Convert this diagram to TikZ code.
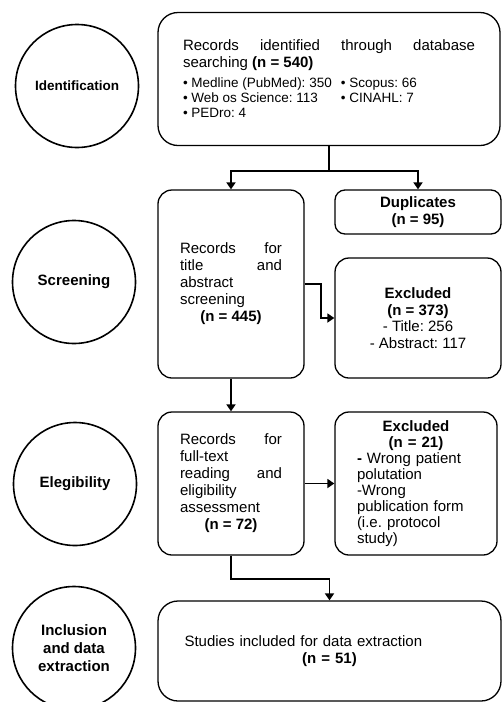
\documentclass[tikz,border=0pt]{standalone}
\usepackage{fontspec}
\setmainfont{Liberation Sans}
\usetikzlibrary{arrows.meta}
\setlength{\parindent}{0pt}
\frenchspacing
\tolerance=10000
\hyphenpenalty=10000
\exhyphenpenalty=10000

\tikzset{
  phase/.style={circle, draw, line width=1.6pt, minimum size=123pt, inner sep=0pt, align=center, font=\fontsize{15}{18}\selectfont\bfseries},
  stagebox/.style={draw, line width=1.3pt, rounded corners=14pt, inner sep=0pt, font=\fontsize{15}{17}\selectfont},
  flow/.style={line width=1.8pt},
  flowarrow/.style={flow, -{Triangle[width=9pt,length=7pt]}},
}

\begin{document}
\begin{tikzpicture}[x=1pt,y=-1pt]
\useasboundingbox (0,0) rectangle (502,702);

\node[phase, font=\fontsize{13.5}{16}\selectfont\bfseries] (ident) at (77,86) {Identification};
\node[phase] (screening) at (74,282) {Screening};
\node[phase] (elegibility) at (75,484) {Elegibility};
\node[phase] (inclusion) at (74,648) {Inclusion\\and data\\extraction};

\node[stagebox, rounded corners=20pt, minimum width=342pt, minimum height=133pt, text width=292pt, align=justify] (records) at (329,79)
  {Records identified through database\linebreak searching \textbf{(n = 540)}\par
   \vspace{5pt}
   {\fontsize{13.5}{15}\selectfont
   \makebox[158pt][l]{• Medline (PubMed): 350}• Scopus: 66\\
   \makebox[158pt][l]{• Web os Science: 113}• CINAHL: 7\\
   • PEDro: 4\par}};

\node[stagebox, rounded corners=10pt, minimum width=166pt, minimum height=44pt, align=center, font=\fontsize{15}{17}\selectfont\bfseries] (dup) at (418,212)
  {Duplicates\\(n = 95)};

\node[stagebox, minimum width=146pt, minimum height=188pt, text width=102pt, align=justify] (screen) at (231,284)
  {Records for\linebreak title and\linebreak abstract\\ screening\par
   {\centering\textbf{(n = 445)}\par}};

\node[stagebox, minimum width=166pt, minimum height=120pt, align=center, font=\fontsize{15}{16.5}\selectfont] (excl1) at (418,318)
  {\textbf{Excluded}\\\textbf{(n = 373)}\\- Title: 256\\- Abstract: 117};

\node[stagebox, minimum width=146pt, minimum height=143pt, text width=102pt, align=justify] (elig) at (231,483.5)
  {Records for\linebreak full-text\\ reading and\linebreak eligibility\\ assessment\par
   {\centering\textbf{(n = 72)}\par}};

\node[stagebox, minimum width=162pt, minimum height=143pt, text width=118pt, align=left, font=\fontsize{15}{16}\selectfont] (excl2) at (416,483.5)
  {{\centering\textbf{Excluded}\\\textbf{(n = 21)}\par}
   \textbf{-} Wrong patient\\ polutation\\ -Wrong\\ publication form\\ (i.e. protocol\\ study)};

\node[stagebox, rounded corners=20pt, minimum width=343pt, minimum height=100pt, text width=290pt, align=left] (final) at (329.5,651)
  {Studies included for data extraction\par
   {\centering\textbf{(n = 51)}\par}};

\draw[flow] (records.south) -- ++(0,25) coordinate (split);
\draw[flowarrow] (split) -| (screen.north);
\draw[flowarrow] (split) -| (dup.north);
\draw[flowarrow] (screen.east) -- ++(16,0) |- (excl1.west);
\draw[flowarrow] (screen.south) -- (elig.north);
\draw[flowarrow] (elig.east) -- (excl2.west);
\draw[flowarrow] (elig.south) -- ++(0,23) -| (final.north);
\end{tikzpicture}
\end{document}
